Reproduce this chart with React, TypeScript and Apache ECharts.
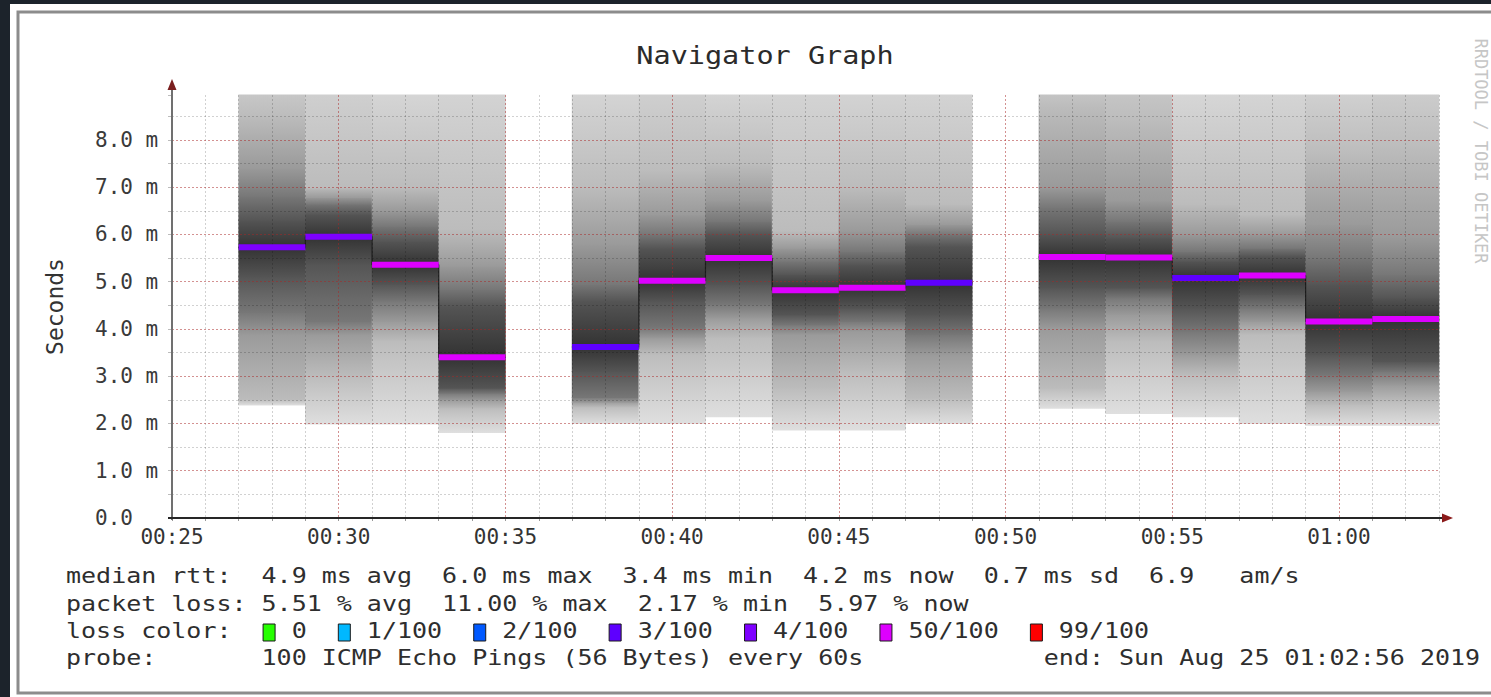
import React, { useEffect, useRef } from "react";
import * as echarts from "echarts";

const FONT = '"DejaVu Sans Mono", "Liberation Mono", monospace';

// time axis in minutes after midnight
const xMin = 25;
const xMax = 63;
const yMin = 0;
const yMax = 8.95;
const binWidth = 2;

// start minute of each 2-minute smoke column
const barStart = [27, 29, 31, 33, 37, 39, 41, 43, 45, 47, 51, 53, 55, 57, 59, 61];

// ping rtt distribution per column (ms), read from the smoke shading
const pMin = [2.39, 1.99, 1.99, 1.81, 2.0, 2.0, 2.14, 1.86, 1.86, 2.0, 2.32, 2.21, 2.14, 2.0, 1.96, 1.96];
const p10 = [2.5, 3.0, 3.74, 2.32, 2.35, 3.46, 3.81, 2.75, 3.1, 2.54, 2.75, 3.74, 3.03, 3.88, 2.4, 2.47];
const p20 = [3.88, 3.88, 4.16, 2.5, 2.45, 3.81, 4.23, 3.88, 3.95, 3.46, 4.02, 4.3, 3.46, 4.16, 2.68, 2.82];
const p30 = [4.35, 4.16, 4.59, 2.64, 2.55, 4.02, 4.52, 4.09, 4.16, 3.88, 4.44, 4.66, 3.95, 4.44, 3.03, 3.1];
const p40 = [5.1, 5.36, 4.94, 2.75, 3.1, 4.59, 4.94, 4.3, 4.44, 4.3, 4.87, 4.87, 4.44, 4.73, 3.46, 3.31];
const median = [5.73, 5.95, 5.36, 3.4, 3.62, 5.02, 5.5, 4.82, 4.87, 4.98, 5.52, 5.51, 5.08, 5.13, 4.16, 4.21];
const p60 = [6.3, 6.42, 5.85, 4.48, 4.59, 5.71, 6.0, 5.15, 5.36, 5.75, 6.0, 5.93, 5.43, 5.54, 4.94, 4.66];
const p70 = [6.8, 6.64, 6.17, 4.84, 4.94, 6.0, 6.28, 5.43, 5.64, 6.0, 6.57, 6.28, 5.64, 5.71, 5.5, 5.15];
const p80 = [7.4, 6.78, 6.5, 5.33, 5.79, 6.42, 6.71, 5.71, 6.07, 6.21, 6.99, 6.71, 6.0, 6.0, 6.21, 5.93];
const p90 = [8.5, 6.99, 6.99, 6.1, 7.0, 7.34, 7.48, 6.07, 6.99, 6.64, 8.7, 8.4, 6.64, 6.42, 7.7, 7.83];
const pMax = [9.9, 10.6, 9.7, 10.3, 9.8, 10.2, 9.6, 10.4, 9.9, 10.1, 9.8, 10.5, 9.7, 10.0, 9.9, 10.2];

// loss bucket of each column's median line
const medianLoss = ["4/100", "4/100", "50/100", "50/100", "3/100", "50/100", "50/100", "50/100",
  "50/100", "3/100", "50/100", "50/100", "3/100", "50/100", "50/100", "50/100"];

const lossLabels = ["0", "1/100", "2/100", "3/100", "4/100", "50/100", "99/100"];
const lossColors = ["#26ff00", "#00b8ff", "#0059ff", "#5e00ff", "#7e00ff", "#dd00ff", "#ff0000"];

const title = "Navigator Graph";
const yAxisName = "Seconds";
const watermark = "RRDTOOL / TOBI OETIKER";
const legendRtt = "median rtt:  4.9 ms avg  6.0 ms max  3.4 ms min  4.2 ms now  0.7 ms sd  6.9   am/s";
const legendLoss = "packet loss: 5.51 % avg  11.00 % max  2.17 % min  5.97 % now";
const probeText = "100 ICMP Echo Pings (56 Bytes) every 60s";
const endText = "end: Sun Aug 25 01:02:56 2019";

const pctLevels = [pMin, p10, p20, p30, p40, median, p60, p70, p80, p90, pMax];
const pctRanks = [0, 10, 20, 30, 40, 50, 60, 70, 80, 90, 100];

function fmtTime(v: number) {
  const h = Math.floor(v / 60);
  const m = Math.round(v % 60);
  return String(h).padStart(2, "0") + ":" + String(m).padStart(2, "0");
}

// smokeping-like shading: outer pings light, pings near the median dark
function grayOfRank(r: number) {
  const k = Math.min(r, 100 - r);
  const g = Math.round(50 + 3.45 * (50 - k));
  return `rgb(${g},${g},${g})`;
}

export default function App() {
  const ref = useRef<HTMLDivElement>(null);

  useEffect(() => {
    const chart = echarts.init(ref.current!, null, { renderer: "svg" });

    const smokeData: any[] = [];
    barStart.forEach((s, i) => {
      for (let j = 0; j < pctLevels.length - 1; j++) {
        smokeData.push([s, s + binWidth, pctLevels[j][i], pctLevels[j + 1][i], pctRanks[j], pctRanks[j + 1]]);
      }
    });

    const medLine: any[] = [];
    barStart.forEach((s, i) => {
      if (i > 0 && barStart[i - 1] + binWidth !== s) {
        medLine.push([(barStart[i - 1] + binWidth + s) / 2, "-"]);
      }
      medLine.push([s, median[i]], [s + binWidth, median[i]]);
    });

    const medSeg = barStart.map((s, i) => [s, s + binWidth, median[i], lossLabels.indexOf(medianLoss[i])]);

    // legend line 3 with colour boxes
    let line3 = "loss color:  ";
    const boxSlots: number[] = [];
    lossLabels.forEach((lab, i) => {
      boxSlots.push(line3.length);
      line3 += "  " + lab + (i < lossLabels.length - 1 ? "  " : "");
    });
    const line4 = ("probe:".padEnd(13) + probeText).padEnd(65) + endText;

    const LFS = 21;
    const LSCALE = 1.19;
    const PITCH = LFS * 0.60205 * LSCALE;
    const LX = 66;
    const legendLines = [legendRtt, legendLoss, line3, line4];
    const legendY = [576, 604, 631, 658];

    const graphic: any[] = [];
    legendLines.forEach((t, i) => {
      graphic.push({
        type: "text", x: LX, y: legendY[i], scaleX: LSCALE, z: 50,
        style: { text: t, fontFamily: FONT, fontSize: LFS, fill: "#2e2e2e", align: "left", verticalAlign: "middle", textAlign: "left", textVerticalAlign: "middle" },
      });
    });
    boxSlots.forEach((slot, i) => {
      graphic.push({
        type: "rect", z: 50,
        shape: { x: LX + slot * PITCH + 1.5, y: 624, width: 12, height: 17 },
        style: { fill: lossColors[i], stroke: "#1a1a1a", lineWidth: 1 },
      });
    });
    graphic.push(
      { type: "rect", z: 60, shape: { x: 0, y: 0, width: 10, height: 697 }, style: { fill: "#1c232b" } },
      { type: "rect", z: 60, shape: { x: 0, y: 0, width: 1491, height: 4 }, style: { fill: "#1c232b" } },
      { type: "rect", z: 60, shape: { x: 18, y: 12, width: 1500, height: 681 }, style: { fill: "transparent", stroke: "#8c8c8c", lineWidth: 3 } },
      {
        type: "text", x: 765, y: 55, scaleX: 1.14, z: 50,
        style: { text: title, fontFamily: FONT, fontSize: 25, fill: "#2b2b2b", align: "center", verticalAlign: "middle", textAlign: "center", textVerticalAlign: "middle" },
      },
      {
        type: "text", x: 1481, y: 151, rotation: -Math.PI / 2, z: 50,
        style: { text: watermark, fontFamily: FONT, fontSize: 17, fill: "#c6c6c6", align: "center", verticalAlign: "middle", textAlign: "center", textVerticalAlign: "middle" },
      },
      { type: "line", z: 40, shape: { x1: 172, y1: 520, x2: 172, y2: 88 }, style: { stroke: "#707070", lineWidth: 2 } },
      { type: "polygon", z: 41, shape: { points: [[172, 79], [167.5, 90], [176.5, 90]] }, style: { fill: "#7a1f1f" } },
      { type: "line", z: 40, shape: { x1: 168, y1: 518, x2: 1444, y2: 518 }, style: { stroke: "#262626", lineWidth: 2 } },
      { type: "polygon", z: 41, shape: { points: [[1453, 518], [1442, 513.5], [1442, 522.5]] }, style: { fill: "#8b1a1a" } }
    );

    const minorLine = { color: "rgba(0,0,0,0.18)", width: 1, type: [2, 2] };
    const majorLine = { color: "rgba(215,50,50,0.4)", width: 1, type: [2, 2] };

    const option: any = {
      animation: false,
      backgroundColor: "#ffffff",
      grid: { left: 172, right: 52, top: 95, bottom: 179, containLabel: false },
      xAxis: [
        {
          type: "value", min: xMin, max: xMax, interval: 1, position: "bottom", z: 4,
          axisLine: { show: false },
          axisTick: { show: true, length: 3, lineStyle: { color: "#999" } },
          axisLabel: { show: false },
          splitLine: { show: true, showMinLine: false, lineStyle: minorLine },
        },
        {
          type: "value", min: xMin, max: xMax, interval: 5, position: "bottom", z: 5,
          axisLine: { show: false },
          axisTick: { show: false },
          axisLabel: {
            show: true, margin: 8, fontFamily: FONT, fontSize: 21, color: "#333",
            formatter: (v: number) => (v % 5 === 0 && v < xMax ? fmtTime(v) : ""),
          },
          splitLine: { show: true, showMinLine: false, showMaxLine: false, lineStyle: majorLine },
        },
      ],
      yAxis: [
        {
          type: "value", min: yMin, max: yMax, interval: 0.5, position: "left", z: 4,
          axisLine: { show: false },
          axisTick: { show: true, length: 4, lineStyle: { color: "#bbb" } },
          axisLabel: { show: false },
          splitLine: { show: true, showMinLine: false, showMaxLine: false, lineStyle: minorLine },
        },
        {
          type: "value", min: yMin, max: yMax, interval: 1, position: "left", z: 5,
          name: yAxisName, nameLocation: "middle", nameRotate: 90, nameGap: 106,
          nameTextStyle: { fontFamily: FONT, fontSize: 23, color: "#333" },
          axisLine: { show: false },
          axisTick: { show: false },
          axisLabel: {
            show: true, margin: 77, align: "left", fontFamily: FONT, fontSize: 21, color: "#3a3a3a",
            formatter: (v: number) => {
              if (Math.abs(v - Math.round(v)) > 1e-6 || v > 8.5) return "";
              return v === 0 ? "0.0" : v.toFixed(1) + " m";
            },
          },
          splitLine: { show: true, showMinLine: false, showMaxLine: false, lineStyle: majorLine },
        },
      ],
      graphic,
      series: [
        {
          type: "custom", name: "smoke", xAxisIndex: 0, yAxisIndex: 0, z: 1,
          encode: { x: [0, 1], y: [2, 3] },
          data: smokeData,
          renderItem: (params: any, api: any) => {
            const rLo = api.value(4);
            const rHi = api.value(5);
            const a = api.coord([api.value(0), api.value(3)]);
            const b = api.coord([api.value(1), api.value(2)]);
            const cs = params.coordSys;
            const top = a[1];
            const bot = b[1];
            const ct = Math.max(top, cs.y);
            const cb = Math.min(bot, cs.y + cs.height);
            if (cb <= ct) return null;
            const rankAt = (y: number) => rLo + (rHi - rLo) * ((bot - y) / (bot - top));
            const x0 = Math.max(a[0], cs.x) - 0.3;
            const x1 = Math.min(b[0], cs.x + cs.width) + 0.3;
            return {
              type: "rect",
              shape: { x: x0, y: ct - 0.5, width: x1 - x0, height: cb - ct + 1 },
              style: {
                fill: new echarts.graphic.LinearGradient(0, 0, 0, 1, [
                  { offset: 0, color: grayOfRank(rankAt(ct)) },
                  { offset: 1, color: grayOfRank(rankAt(cb)) },
                ]),
              },
            };
          },
        },
        {
          type: "line", name: "median", xAxisIndex: 0, yAxisIndex: 0, z: 2,
          data: medLine, symbol: "none", connectNulls: false,
          lineStyle: { color: "#202020", width: 1.2 },
        },
        {
          type: "custom", name: "median loss", xAxisIndex: 0, yAxisIndex: 0, z: 8,
          encode: { x: [0, 1], y: 2 },
          data: medSeg,
          renderItem: (params: any, api: any) => {
            const a = api.coord([api.value(0), api.value(2)]);
            const b = api.coord([api.value(1), api.value(2)]);
            return {
              type: "rect",
              shape: { x: a[0], y: a[1] - 3, width: b[0] - a[0], height: 6 },
              style: { fill: lossColors[api.value(3)] },
            };
          },
        },
      ],
    };

    chart.setOption(option);
    return () => chart.dispose();
  }, []);

  return (
    <div style={{ position: "absolute", left: 0, top: 0, width: 1491, height: 697, background: "#1c232b" }}>
      <div ref={ref} style={{ width: 1491, height: 697 }} />
    </div>
  );
}
